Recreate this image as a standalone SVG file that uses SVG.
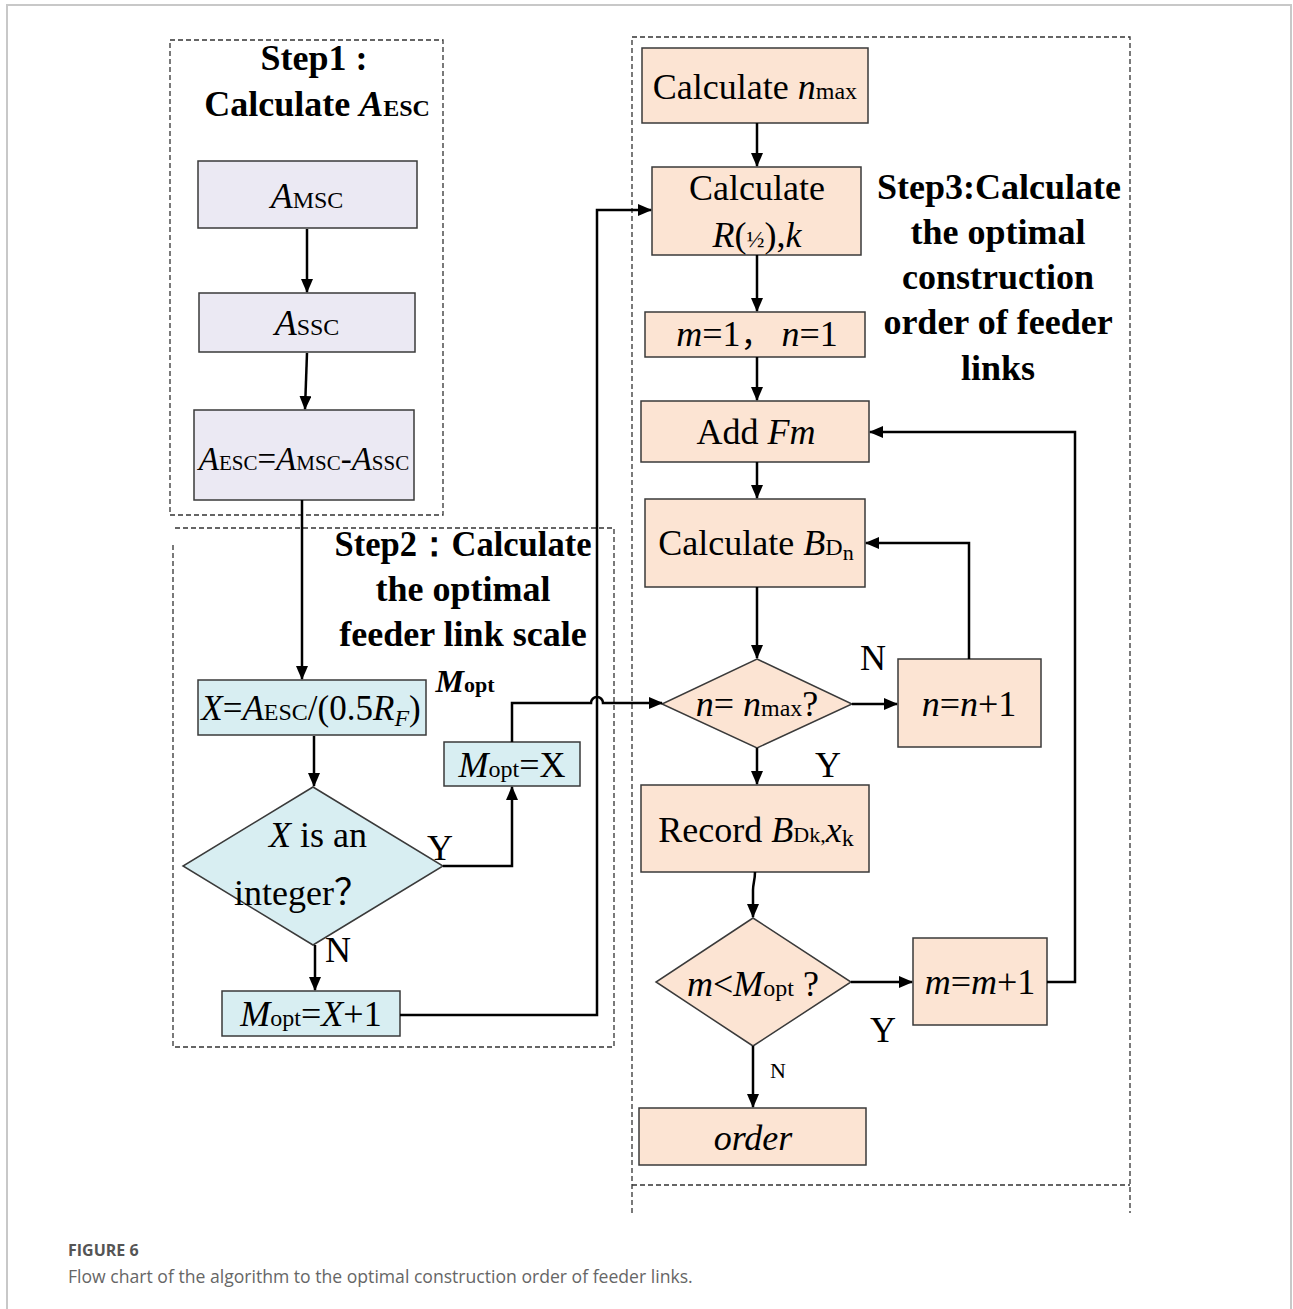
<svg xmlns="http://www.w3.org/2000/svg" width="1293" height="1309" viewBox="0 0 1293 1309">
<defs>
<marker id="arr" markerWidth="14" markerHeight="12" refX="13" refY="6" orient="auto" markerUnits="userSpaceOnUse">
<path d="M0,0 L14,6 L0,12 z" fill="#000"/>
</marker>
<style>
.frame{fill:none;stroke:#c8c8c8;stroke-width:2}
.dash{fill:none;stroke:#333;stroke-width:1.3;stroke-dasharray:5,3}
.box{stroke:#3a3a3a;stroke-width:1.5}
.lav{fill:#ebe9f3}
.cy{fill:#d8eef2}
.pe{fill:#fce4d3}
.t{font-family:"Liberation Serif","Times New Roman",serif;font-size:36px;fill:#000;text-anchor:middle}
.b{font-weight:bold}
.i{font-style:italic}
.s{font-size:24px}
.con{fill:none;stroke:#000;stroke-width:2.5}
.cap1{font-family:"Open Sans","Noto Sans",sans-serif;font-size:16px;font-weight:bold;fill:#555}
.cap2{font-family:"Open Sans","Noto Sans",sans-serif;font-size:17.6px;fill:#666}
</style>
</defs>
<rect width="1293" height="1309" fill="#fff"/>
<path class="frame" d="M7,1309 V5 H1291 V1309"/>

<g id="step-boxes">
<rect class="dash" x="170" y="40" width="273" height="475"/>
<path class="dash" d="M175,528 H614 V1047 H173 V545"/>
<path class="dash" d="M632,1213 V37 H1130 V1213 M632,1185 H1130"/>
</g>

<g id="step1-title">
<text class="t b" x="314" y="70">Step1 :</text>
<text class="t b" x="317" y="116">Calculate <tspan class="i">A</tspan><tspan class="s">ESC</tspan></text>
</g>
<g id="n-amsc">
<rect class="box lav" x="198" y="161" width="219" height="67"/>
<text class="t" x="307" y="208"><tspan class="i">A</tspan><tspan class="s">MSC</tspan></text>
</g>
<g id="n-assc">
<rect class="box lav" x="199" y="293" width="216" height="59"/>
<text class="t" x="307" y="335"><tspan class="i">A</tspan><tspan class="s">SSC</tspan></text>
</g>
<g id="n-aesc">
<rect class="box lav" x="194" y="410" width="220" height="90"/>
<text class="t" x="304" y="470" style="font-size:33px"><tspan class="i">A</tspan><tspan style="font-size:21px">ESC</tspan>=<tspan class="i">A</tspan><tspan style="font-size:21px">MSC</tspan>-<tspan class="i">A</tspan><tspan style="font-size:21px">SSC</tspan></text>
</g>

<g id="step2-title">
<text class="t b" x="463" y="556" textLength="257" lengthAdjust="spacingAndGlyphs">Step2：Calculate</text>
<text class="t b" x="463" y="601">the optimal</text>
<text class="t b" x="463" y="646">feeder link scale</text>
<text class="t b" x="465" y="692" style="font-size:32px"><tspan class="i">M</tspan><tspan style="font-size:22px">opt</tspan></text>
</g>
<g id="n-x">
<rect class="box cy" x="198" y="680" width="228" height="55"/>
<text class="t" x="311" y="720" style="font-size:35px"><tspan class="i">X</tspan>=<tspan class="i">A</tspan><tspan class="s">ESC</tspan>/(0.5<tspan class="i">R</tspan><tspan class="s i" dy="6">F</tspan><tspan dy="-6">)</tspan></text>
</g>
<g id="n-isint">
<polygon class="box cy" points="313,787 443,866 313,945 183,866"/>
<text class="t" x="318" y="847"><tspan class="i">X</tspan> is an</text>
<text class="t" x="302" y="905">integer<tspan font-family="'Noto Sans CJK SC',sans-serif" style="font-size:36px">？</tspan></text>
</g>
<g id="n-mopt-x">
<rect class="box cy" x="444" y="742" width="136" height="44"/>
<text class="t" x="512" y="777"><tspan class="i">M</tspan><tspan class="s">opt</tspan>=X</text>
</g>
<g id="n-mopt-x1">
<rect class="box cy" x="222" y="991" width="178" height="45"/>
<text class="t" x="311" y="1026"><tspan class="i">M</tspan><tspan class="s">opt</tspan>=<tspan class="i">X</tspan>+1</text>
</g>

<g id="step3-title">
<text class="t b" x="999" y="199">Step3:Calculate</text>
<text class="t b" x="998" y="244">the optimal</text>
<text class="t b" x="998" y="289">construction</text>
<text class="t b" x="998" y="334">order of feeder</text>
<text class="t b" x="998" y="380">links</text>
</g>
<g id="n-nmax">
<rect class="box pe" x="642" y="48" width="226" height="75"/>
<text class="t" x="755" y="99">Calculate <tspan class="i">n</tspan><tspan class="s">max</tspan></text>
</g>
<g id="n-rk">
<rect class="box pe" x="652" y="167" width="209" height="88"/>
<text class="t" x="757" y="200">Calculate</text>
<text class="t" x="757" y="247"><tspan class="i">R</tspan>(<tspan class="s">½</tspan>),<tspan class="i">k</tspan></text>
</g>
<g id="n-mn1">
<rect class="box pe" x="645" y="312" width="220" height="45"/>
<text class="t" x="757" y="346"><tspan class="i">m</tspan>=1<tspan font-family="'Noto Sans CJK SC',sans-serif" style="font-size:32px">，</tspan> <tspan class="i">n</tspan>=1</text>
</g>
<g id="n-addfm">
<rect class="box pe" x="641" y="401" width="228" height="61"/>
<text class="t" x="756" y="444">Add <tspan class="i">Fm</tspan></text>
</g>
<g id="n-bdn">
<rect class="box pe" x="645" y="499" width="220" height="88"/>
<text class="t" x="756" y="555">Calculate <tspan class="i">B</tspan><tspan class="s">D</tspan><tspan style="font-size:22px" dy="5">n</tspan></text>
</g>
<g id="n-neq">
<polygon class="box pe" points="757,659 852,704 757,748 662,704"/>
<text class="t" x="757" y="716"><tspan class="i">n</tspan>= <tspan class="i">n</tspan><tspan class="s">max</tspan>?</text>
</g>
<g id="n-ninc">
<rect class="box pe" x="898" y="659" width="143" height="88"/>
<text class="t" x="969" y="716"><tspan class="i">n</tspan>=<tspan class="i">n</tspan>+1</text>
</g>
<g id="n-record">
<rect class="box pe" x="641" y="785" width="228" height="87"/>
<text class="t" x="756" y="842">Record <tspan class="i">B</tspan><tspan style="font-size:22px">Dk,</tspan><tspan class="i">x</tspan><tspan class="s" dy="4">k</tspan></text>
</g>
<g id="n-mlt">
<polygon class="box pe" points="753,918 851,982 753,1046 656,982"/>
<text class="t" x="753" y="996"><tspan class="i">m</tspan>&lt;<tspan class="i">M</tspan><tspan class="s">opt</tspan> ?</text>
</g>
<g id="n-minc">
<rect class="box pe" x="913" y="938" width="134" height="87"/>
<text class="t" x="980" y="994"><tspan class="i">m</tspan>=<tspan class="i">m</tspan>+1</text>
</g>
<g id="n-order">
<rect class="box pe" x="639" y="1108" width="227" height="57"/>
<text class="t i" x="753" y="1150">order</text>
</g>

<g id="connectors">
<path class="con" marker-end="url(#arr)" d="M307,229 L307,292"/>
<path class="con" marker-end="url(#arr)" d="M307,353 L305,409"/>
<path class="con" marker-end="url(#arr)" d="M302,500 L302,679"/>
<path class="con" marker-end="url(#arr)" d="M314,736 L314,786"/>
<path class="con" marker-end="url(#arr)" d="M443,866 H512 V787"/>
<path class="con" marker-end="url(#arr)" d="M512,742 V703 H591 A6,6 0 0 1 603,703 H662"/>
<path class="con" marker-end="url(#arr)" d="M315,945 V990"/>
<path class="con" marker-end="url(#arr)" d="M400,1015 H597 V210 H651"/>
<path class="con" marker-end="url(#arr)" d="M757,123 V166"/>
<path class="con" marker-end="url(#arr)" d="M757,255 V311"/>
<path class="con" marker-end="url(#arr)" d="M757,357 V400"/>
<path class="con" marker-end="url(#arr)" d="M757,462 V498"/>
<path class="con" marker-end="url(#arr)" d="M757,587 V658"/>
<path class="con" marker-end="url(#arr)" d="M852,704 H897"/>
<path class="con" marker-end="url(#arr)" d="M969,659 V543 H866"/>
<path class="con" marker-end="url(#arr)" d="M757,748 V784"/>
<path class="con" marker-end="url(#arr)" d="M755,872 C755,880 753,884 753,890 V917"/>
<path class="con" marker-end="url(#arr)" d="M851,982 H912"/>
<path class="con" marker-end="url(#arr)" d="M1047,982 H1075 V432 H870"/>
<path class="con" marker-end="url(#arr)" d="M753,1046 V1107"/>
</g>

<g id="labels">
<text class="t" x="440" y="860">Y</text>
<text class="t" x="338" y="962">N</text>
<text class="t" x="873" y="670">N</text>
<text class="t" x="828" y="777">Y</text>
<text class="t" x="883" y="1042">Y</text>
<text class="t" x="778" y="1078" style="font-size:22px">N</text>
</g>

<g id="caption">
<text class="cap1" x="68" y="1256">FIGURE 6</text>
<text class="cap2" x="68" y="1283">Flow chart of the algorithm to the optimal construction order of feeder links.</text>
</g>
</svg>
